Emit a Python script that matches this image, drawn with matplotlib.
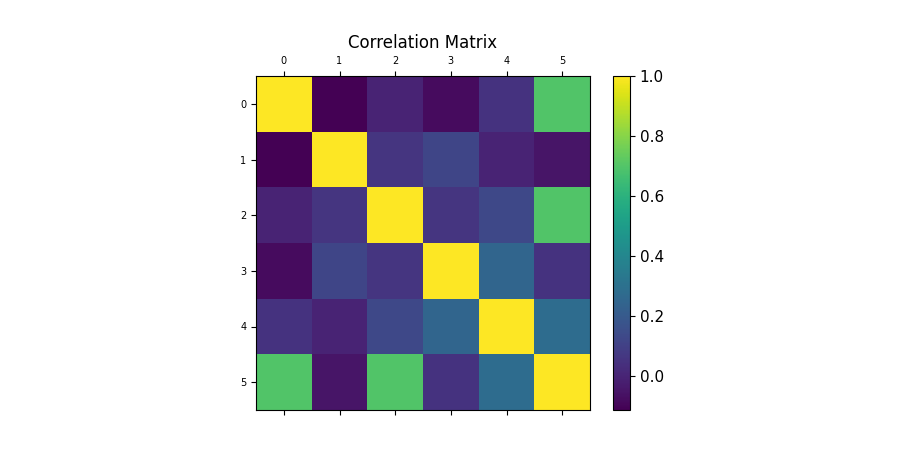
import matplotlib
matplotlib.use("Agg")
import matplotlib.pyplot as plt
import numpy as np

labels = ["0", "1", "2", "3", "4", "5"]
row0 = [1.00, -0.11, 0.00, -0.08, 0.05, 0.70]
row1 = [-0.11, 1.00, 0.06, 0.12, 0.00, -0.05]
row2 = [0.00, 0.06, 1.00, 0.06, 0.13, 0.70]
row3 = [-0.08, 0.12, 0.06, 1.00, 0.25, 0.05]
row4 = [0.05, 0.00, 0.13, 0.25, 1.00, 0.28]
row5 = [0.70, -0.05, 0.70, 0.05, 0.28, 1.00]
corr = np.array([row0, row1, row2, row3, row4, row5])

fig = plt.figure(figsize=(9, 4.55), dpi=100)
ax = fig.add_axes([256/900, 45/455, 334/900, 334/455])
cax = fig.add_axes([613/900, 45/455, 17/900, 334/455])
im = ax.matshow(corr, cmap="viridis", vmin=-0.113, vmax=1.0, aspect="auto")
ax.set_xticks(range(len(labels)))
ax.set_xticklabels(labels, fontsize=7)
ax.set_yticks(range(len(labels)))
ax.set_yticklabels(labels, fontsize=7)
ax.set_title("Correlation Matrix", fontsize=12, pad=6)
cb = fig.colorbar(im, cax=cax)
cb.ax.tick_params(labelsize=11)
fig.savefig("out.png", dpi=100)
